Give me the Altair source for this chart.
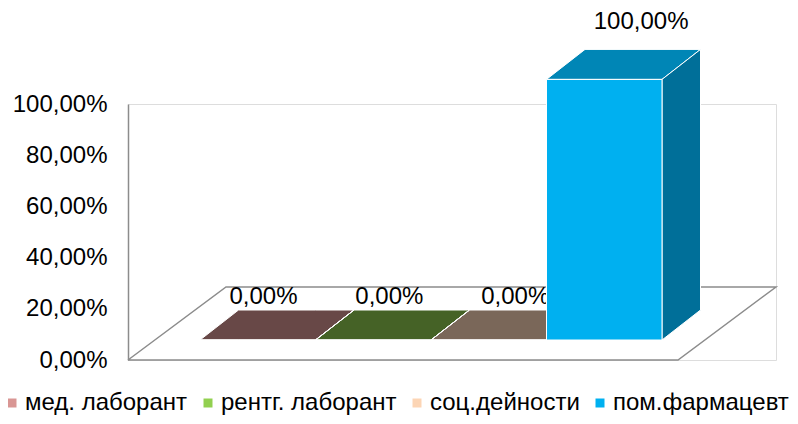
import altair as alt
import pandas as pd

# ---------------- data ----------------
categories = ["мед. лаборант", "рентг. лаборант", "соц.дейности", "пом.фармацевт"]
values = [0.0, 0.0, 0.0, 100.0]          # percent
front_colors = ["#D99694", "#92D050", "#FCD5B5", "#00B0F0"]
top_colors = ["#684847", "#456226", "#7A6759", "#0086B6"]
side_colors = ["#5A3E3D", "#3A5420", "#6A594D", "#006F99"]
y_ticks = [0, 20, 40, 60, 80, 100]

# ---------------- layout / 3D styling constants ----------------
PLOT_W, PLOT_H = 648, 256
PX_X = 115.5                      # pixels per category slot
PX_Y = PLOT_H / 100.0             # pixels per percent
X_MIN = -72 / PX_X                # plot left edge relative to first bar
X_MAX = X_MIN + PLOT_W / PX_X
FLOOR_DX, FLOOR_DY = 98 / PX_X, 73 / PX_Y      # floor depth
DEPTH_DX, DEPTH_DY = 38.5 / PX_X, 30 / PX_Y    # bar depth
FRONT_LIFT = 20 / PX_Y            # bar front plane above floor front edge
BAR_SCALE = 1.018                 # perspective magnification of front plane
LABEL_SCALE, LABEL_LIFT = 1.074, 16.8
PERSP, VP = 0.09, -0.05
FONT = "Liberation Sans"

def pct(v):
    return f"{v:.2f}".replace(".", ",") + "%"

# floor outline
floor = pd.DataFrame({
    "x": [X_MIN, X_MAX - FLOOR_DX, X_MAX, X_MIN + FLOOR_DX, X_MIN],
    "y": [0, 0, FLOOR_DY, FLOOR_DY, 0],
    "o": [0, 1, 2, 3, 4],
})

front_rows, top_rows, side_rows, label_rows = [], [], [], []
for i, (c, v) in enumerate(zip(categories, values)):
    top = FRONT_LIFT + v * BAR_SCALE
    front_rows.append({"cat": c, "x": i, "x2": i + 1, "y": FRONT_LIFT, "y2": top})
    for (px, lo, hi) in [(i, top, top), (i + DEPTH_DX, top, top + DEPTH_DY),
                         (i + 1, top, top + DEPTH_DY), (i + 1 + DEPTH_DX, top + DEPTH_DY, top + DEPTH_DY)]:
        top_rows.append({"cat": c, "x": px, "y": lo, "y2": hi, "fc": top_colors[i]})
    for (px, lo, hi) in [(i + 1, FRONT_LIFT, top), (i + 1 + DEPTH_DX, FRONT_LIFT + DEPTH_DY, top + DEPTH_DY)]:
        side_rows.append({"cat": c, "x": px, "y": lo, "y2": hi, "fc": side_colors[i]})
    label_rows.append({"cat": c, "x": i + 0.5 + PERSP * (i + 0.5 - VP),
                       "y": FRONT_LIFT + v * LABEL_SCALE + LABEL_LIFT, "t": pct(v)})

front = pd.DataFrame(front_rows)
tops = pd.DataFrame(top_rows)
sides = pd.DataFrame(side_rows)
labels = pd.DataFrame(label_rows)

xs = alt.Scale(domain=[X_MIN, X_MAX], nice=False, zero=False)
ys = alt.Scale(domain=[0, 100], nice=False, zero=False)
Y_AXIS = alt.Axis(values=y_ticks, title=None, ticks=False, tickSize=0, grid=False,
                  labelExpr="replace(format(datum.value, '.2f'), '.', ',') + '%'",
                  labelFontSize=24, labelFont=FONT, labelColor="#000000", labelPadding=21,
                  domainColor="#8C8C8C", domainWidth=1.5)

X = alt.X("x:Q", scale=xs, axis=None)
Y = alt.Y("y:Q", scale=ys, axis=Y_AXIS, stack=None)

floor_layer = alt.Chart(floor).mark_line(color="#8C8C8C", strokeWidth=1.5).encode(
    x=X, y=Y, order="o:Q")

top_layer = alt.Chart(tops).mark_area(stroke="white", strokeWidth=1, opacity=1).encode(
    x=X, y=Y, y2="y2:Q", detail="cat:N", fill=alt.Fill("fc:N", scale=None))

side_layer = alt.Chart(sides).mark_area(stroke="white", strokeWidth=1, opacity=1).encode(
    x=X, y=Y, y2="y2:Q", detail="cat:N", fill=alt.Fill("fc:N", scale=None))

label_layer = alt.Chart(labels).mark_text(fontSize=24, font=FONT, color="#000000",
                                          align="center", baseline="middle").encode(
    x=X, y=Y, text="t:N")

front_layer = alt.Chart(front).mark_rect(stroke="white", strokeWidth=1).encode(
    x=X, x2="x2:Q", y=Y, y2="y2:Q",
    color=alt.Color("cat:N", scale=alt.Scale(domain=categories, range=front_colors),
                    sort=categories,
                    legend=alt.Legend(title=None, orient="none", direction="horizontal",
                                      legendX=-128, legendY=287, symbolType="square",
                                      symbolSize=81, symbolStrokeWidth=0,
                                      labelFontSize=24, labelFont=FONT, labelColor="#000000",
                                      labelLimit=0, labelOffset=1, columnPadding=8,
                                      padding=0)))

chart = alt.layer(floor_layer, top_layer, side_layer, label_layer, front_layer).properties(
    width=PLOT_W, height=PLOT_H,
    autosize=alt.AutoSizeParams(type="none"),
    padding={"left": 120, "top": 96, "right": 14, "bottom": 56},
).configure_view(stroke=None).configure(background="white")

chart.save("out.html", embed_options={"renderer": "svg", "actions": False})
